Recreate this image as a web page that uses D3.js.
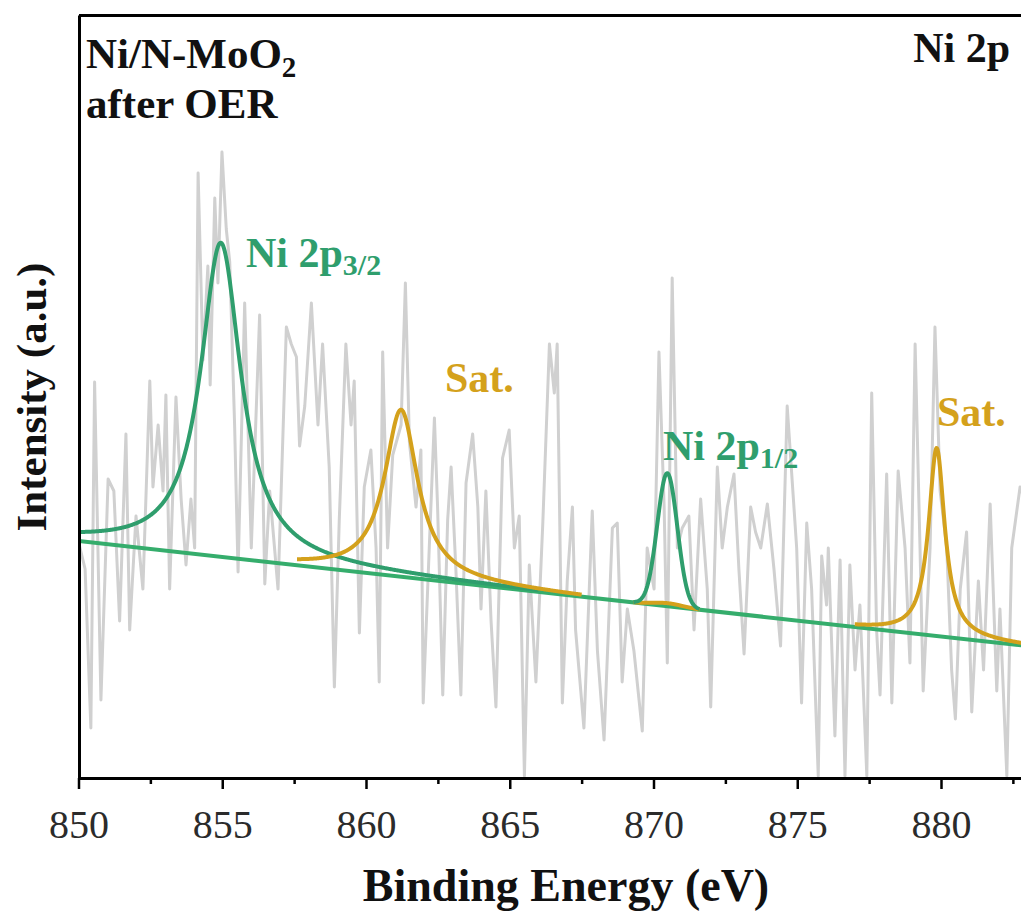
<!DOCTYPE html>
<html>
<head>
<meta charset="utf-8">
<script src="https://cdn.jsdelivr.net/npm/d3@7"></script>
<style>
  body { margin: 0; background: #fff; }
  svg { display: block; }
  svg text { font-family: "Liberation Serif", "Times New Roman", Times, "DejaVu Serif", serif !important; }
</style>
</head>
<body>
<div class="chart"></div>
<script>
// raw spectrum (eV, a.u.)
var rawEnergy = [
  850.02, 850.23, 850.43, 850.56, 850.78, 851.03, 851.23, 851.43, 851.65, 851.78,
  852.00, 852.24, 852.48, 852.59, 852.77, 852.94, 853.04, 853.17, 853.39, 853.57,
  853.74, 853.91, 854.04, 854.16, 854.33, 854.50, 854.58, 854.74, 854.85, 854.99,
  855.14, 855.26, 855.43, 855.55, 855.78, 856.01, 856.30, 856.48, 856.65, 856.94,
  857.23, 857.40, 857.58, 857.69, 857.87, 858.10, 858.33,
  858.49, 858.72, 858.90, 859.07, 859.30, 859.48, 859.59, 859.77, 859.94, 860.17,
  860.35, 860.46, 860.58, 860.75, 860.93, 861.22, 861.37, 861.51, 861.74, 861.91,
  861.99, 862.20, 862.38, 862.49, 862.67, 862.84, 862.96, 863.13, 863.30, 863.48,
  863.71, 863.89, 864.00, 864.17, 864.35, 864.52, 864.75, 864.98, 865.16, 865.33,
  865.51, 865.68, 865.91, 866.15, 866.38, 866.55,
  866.65, 866.83, 867.00, 867.18, 867.29, 867.58, 867.87, 868.05, 868.28, 868.57,
  868.74, 868.91, 869.09, 869.32, 869.61, 869.78, 870.02, 870.19, 870.37, 870.48,
  870.65, 870.83, 871.00, 871.23, 871.41, 871.64, 871.87, 871.99, 872.22, 872.39,
  872.57, 872.80, 872.97, 873.15, 873.38, 873.55, 873.73, 873.96, 874.19, 874.42,
  874.65,
  874.98, 875.15, 875.33, 875.50, 875.73, 875.85, 876.02, 876.08, 876.31, 876.49,
  876.66, 876.83, 877.01, 877.18, 877.42, 877.59, 877.76, 877.88, 878.11, 878.29,
  878.51, 878.75, 878.92, 879.10, 879.27, 879.38, 879.62, 879.79, 879.97, 880.20,
  880.37, 880.50, 880.67, 880.89, 881.07, 881.30, 881.48, 881.71, 881.94, 882.05,
  882.29, 882.46, 882.75, 882.92
];
var rawIntensity = [
  234, 209, 50, 396, 78, 299, 287, 157, 344, 148,
  262, 189, 397, 291, 353, 287, 383, 189, 381, 279,
  213, 279, 230, 605, 418, 512, 393, 580, 495, 626,
  549, 516, 353, 206, 475, 230, 463, 194, 287, 189,
  451, 434, 421, 332, 372, 475, 353,
  434, 311, 91, 258, 434, 353, 397, 145, 291, 328,
  230, 96, 426, 230, 323, 353, 495, 336, 271, 328,
  75, 230, 360, 271, 83, 258, 311, 206, 83, 295,
  344, 271, 169, 287, 157, 71, 320, 348, 230, 262,
  2, 213, 96, 255, 434, 385,
  434, 75, 197, 271, 148, 50, 267, 127, 38, 250,
  255, 96, 169, 127, 47, 230, 189, 426, 271, 115,
  500, 230, 250, 262, 148, 279, 189, 71, 311, 230,
  271, 304, 209, 124, 271, 246, 230, 274, 209, 132,
  372,
  230, 75, 255, 189, 2, 222, 173, 230, 42, 218,
  2, 213, 108, 173, 2, 385, 148, 83, 304, 75,
  307, 230, 115, 434, 230, 87, 230, 451, 287, 230,
  108, 59, 189, 246, 66, 197, 108, 274, 87, 169,
  2, 230, 291, 278
];

// linear background (two end points)
var bgEnergy = [850, 883];
var bgIntensity = [237, 132];

// fitted components: centre, height above background, FWHM, Lorentz share, drawn range
var peakCenter  = [854.95, 861.22, 870.50, 870.48, 879.85];
var peakHeight  = [314, 167, 3, 133, 188];
var peakFwhm    = [1.70, 1.40, 1.20, 0.82, 0.68];
var peakEta     = [1, 1, 0, 0, 1];
var peakFrom    = [850.0, 857.6, 869.3, 869.3, 877.0];
var peakTo      = [866.0, 867.5, 871.6, 871.6, 883.0];
var peakKind    = ["main", "sat", "sat", "main", "sat"];

var xTicks = [850, 855, 860, 865, 870, 875, 880];
var xMinor = [852.5, 857.5, 862.5, 867.5, 872.5, 877.5, 882.5];

var GREEN = "#2f9e6d", GREEN_BG = "#35ad6c", GOLD = "#d4a11c";
var SERIF = "'Liberation Serif', 'Times New Roman', Times, 'DejaVu Serif', serif";

var width = 1021, height = 918;
var x = d3.scaleLinear().domain([850, 883]).range([78.5, 1027.25]);
var y = d3.scaleLinear().domain([0, 763]).range([778, 15]);

var svg = d3.select("div.chart").append("svg")
  .attr("width", width).attr("height", height);

svg.append("clipPath").attr("id", "plot")
  .append("rect").attr("x", 79).attr("y", 15).attr("width", 960).attr("height", 763);

var g = svg.append("g").attr("clip-path", "url(#plot)");

var line = d3.line().x(d => x(d[0])).y(d => y(d[1]));

// raw data
g.append("path")
  .datum(rawEnergy.map((e, i) => [e, rawIntensity[i]]))
  .attr("d", line)
  .attr("fill", "none")
  .attr("stroke", "#d0d0d0")
  .attr("stroke-width", 3)
  .attr("stroke-linejoin", "round");

var bgScale = d3.scaleLinear().domain(bgEnergy).range(bgIntensity);

// background line
g.append("path")
  .datum(bgEnergy.map((e, i) => [e, bgIntensity[i]]))
  .attr("d", line)
  .attr("fill", "none")
  .attr("stroke", GREEN_BG)
  .attr("stroke-width", 4);

function component(i) {
  return d3.range(peakFrom[i], peakTo[i] + 0.001, 0.02).map(function(e) {
    var t = (e - peakCenter[i]) / peakFwhm[i];
    var lor = 1 / (1 + 4 * t * t);
    var gau = Math.exp(-4 * Math.LN2 * t * t);
    var v = peakHeight[i] * (peakEta[i] * lor + (1 - peakEta[i]) * gau);
    return [e, bgScale(e) + v];
  });
}

[2, 0, 1, 3, 4].forEach(function(i) {
  g.append("path")
    .datum(component(i))
    .attr("d", line)
    .attr("fill", "none")
    .attr("stroke", peakKind[i] == "main" ? GREEN : GOLD)
    .attr("stroke-width", 4)
    .attr("stroke-linejoin", "round");
});

// frame
svg.append("g").attr("transform", "translate(0,778)")
  .call(d3.axisBottom(x).tickValues(xMinor).tickSize(6).tickFormat("").tickSizeOuter(0))
  .call(a => a.select(".domain").remove())
  .selectAll("line").attr("stroke", "#000").attr("stroke-width", 2.5);

var xAxis = svg.append("g").attr("transform", "translate(0,778)")
  .call(d3.axisBottom(x).tickValues(xTicks).tickSize(11).tickSizeOuter(0));
xAxis.attr("font-family", null);
xAxis.select(".domain").attr("stroke", "#000").attr("stroke-width", 3);
xAxis.selectAll(".tick line").attr("stroke", "#000").attr("stroke-width", 2.5);
xAxis.selectAll(".tick text")
  .attr("y", 32)
  .attr("fill", "#2b2b2b")
  .style("font-family", SERIF)
  .style("font-size", "40px");

svg.append("g").attr("transform", "translate(79,0)")
  .call(d3.axisLeft(y).tickValues([]).tickSizeOuter(0))
  .select(".domain").attr("stroke", "#000").attr("stroke-width", 3);

svg.append("g").attr("transform", "translate(0,15)")
  .call(d3.axisTop(x).tickValues([]).tickSizeOuter(0))
  .select(".domain").attr("stroke", "#000").attr("stroke-width", 3);

// axis titles
svg.append("text")
  .attr("x", 566).attr("y", 901)
  .attr("text-anchor", "middle")
  .style("font-family", SERIF)
  .attr("font-weight", "bold")
  .attr("font-size", 46)
  .attr("fill", "#111")
  .text("Binding Energy (eV)");

svg.append("text")
  .attr("transform", "translate(46,397) rotate(-90)")
  .attr("text-anchor", "middle")
  .style("font-family", SERIF)
  .attr("font-weight", "bold")
  .attr("font-size", 43)
  .attr("fill", "#111")
  .text("Intensity (a.u.)");

// sample labels
var t1 = svg.append("text").attr("x", 86).attr("y", 68)
  .style("font-family", SERIF)
  .attr("font-weight", "bold").attr("font-size", 43).attr("fill", "#111");
t1.append("tspan").text("Ni/N-MoO");
t1.append("tspan").attr("dy", 9).attr("font-size", 29).text("2");

svg.append("text").attr("x", 86).attr("y", 118)
  .style("font-family", SERIF)
  .attr("font-weight", "bold").attr("font-size", 43).attr("fill", "#111")
  .text("after OER");

svg.append("text").attr("x", 1010).attr("y", 62)
  .attr("text-anchor", "end")
  .style("font-family", SERIF)
  .attr("font-weight", "bold").attr("font-size", 42).attr("fill", "#111")
  .text("Ni 2p");

// peak labels
function peakLabel(px, py, main, sub, color) {
  var t = svg.append("text").attr("x", px).attr("y", py)
    .style("font-family", SERIF)
    .attr("font-weight", "bold").attr("font-size", 42).attr("fill", color);
  t.append("tspan").text(main);
  if (sub) t.append("tspan").attr("dy", 8).attr("font-size", 30).text(sub);
}
peakLabel(246, 267, "Ni 2p", "3/2", GREEN);
peakLabel(445, 392, "Sat.", null, GOLD);
peakLabel(663, 460, "Ni 2p", "1/2", GREEN);
peakLabel(937, 426, "Sat.", null, GOLD);
</script>
</body>
</html>
